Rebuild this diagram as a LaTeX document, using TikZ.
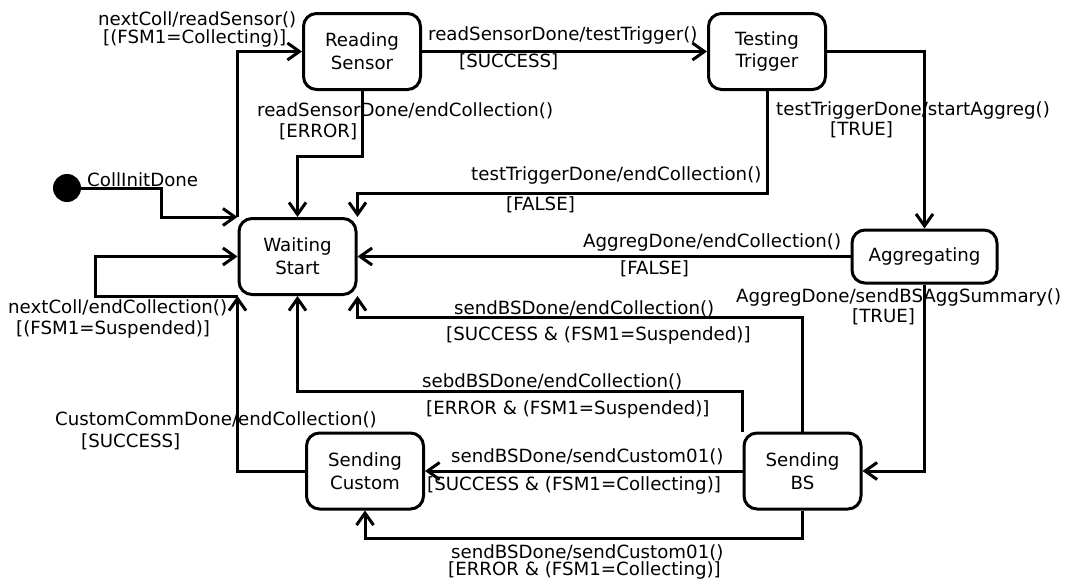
\documentclass[tikz,border=0pt]{standalone}
\usepackage{fontspec}
\setmainfont{DejaVu Sans}
\usetikzlibrary{arrows.meta}
\begin{document}
\begin{tikzpicture}[x=1pt,y=-1pt,
  every node/.style={font=\fontsize{18.2}{22.7}\selectfont},
  state/.style={draw,line width=3pt,rounded corners=13pt,align=center,
    minimum width=117pt,minimum height=76pt,inner sep=0pt},
  tr/.style={line width=3pt,-{Straight Barb[length=12pt,width=17pt,line width=3pt]}},
  lab/.style={anchor=base west,inner sep=0pt}]
\useasboundingbox (0,0) rectangle (1067,581);
% states
\node[state] (RS) at (362,51.5) {Reading\\Sensor};
\node[state] (TT) at (767,51.5) {Testing\\Trigger};
\node[state] (WS) at (297.5,256.5) {Waiting\\Start};
\node[state,minimum width=145pt,minimum height=53pt] (AG) at (924.5,256.5) {Aggregating};
\node[state] (SC) at (365,471) {Sending\\Custom};
\node[state] (SB) at (802.5,471) {Sending\\BS};
\node[circle,fill,inner sep=0pt,minimum size=28pt] (init) at (67,188) {};
% transitions
\draw[tr] (init.east) -- (161,188) |- (WS.north west);
\draw[tr] (WS.north west) |- (RS.west);
\draw[tr] (RS.south) -- ++(0,65) -| (WS.north);
\draw[tr] (RS.east) -- (TT.west);
\draw[tr] (TT.south) -- ++(0,102) -| (WS.north east);
\draw[tr] (TT.east) -| (AG.north);
\draw[tr] (AG.west) -- (WS.east);
\draw[tr] (AG.south) |- (SB.east);
\draw[tr] (SB.north) -- ++(0,-114) -| (WS.south east);
\draw[tr] (SB.north west) -- ++(0,-40) -| (WS.south);
\draw[tr] (SC.west) -| (WS.south west);
\draw[tr] (WS.south west) -- ++(-142,0) |- (WS.west);
\draw[tr] (SB.west) -- (SC.east);
\draw[tr] (SB.south) -- ++(0,28) -| (SC.south);
% labels
\node[lab] (l1) at (87,186) {CollInitDone};
\node[lab] (l2a) at (98,25) {nextColl/readSensor()};
\node[lab] (l2b) at (103,43) {[(FSM1=Collecting)]};
\node[lab] (l3a) at (257,116) {readSensorDone/endCollection()};
\node[lab] (l3b) at (279,137) {[ERROR]};
\node[lab] (l4a) at (428,40) {readSensorDone/testTrigger()};
\node[lab] (l4b) at (459,67) {[SUCCESS]};
\node[lab] (l5a) at (471,180) {testTriggerDone/endCollection()};
\node[lab] (l5b) at (506,210) {[FALSE]};
\node[lab] (l6a) at (776,115) {testTriggerDone/startAggreg()};
\node[lab] (l6b) at (830,135) {[TRUE]};
\node[lab] (l7a) at (583,247) {AggregDone/endCollection()};
\node[lab] (l7b) at (620,274) {[FALSE]};
\node[lab] (l8a) at (736,302) {AggregDone/sendBSAggSummary()};
\node[lab] (l8b) at (852,322) {[TRUE]};
\node[lab] (l9a) at (454,314) {sendBSDone/endCollection()};
\node[lab] (l9b) at (446,340) {[SUCCESS \& (FSM1=Suspended)]};
\node[lab] (l10a) at (422,387) {sebdBSDone/endCollection()};
\node[lab] (l10b) at (426,414) {[ERROR \& (FSM1=Suspended)]};
\node[lab] (l11a) at (55,425) {CustomCommDone/endCollection()};
\node[lab] (l11b) at (81,447) {[SUCCESS]};
\node[lab] (l12a) at (8,313) {nextColl/endCollection()};
\node[lab] (l12b) at (16,334) {[(FSM1=Suspended)]};
\node[lab] (l13a) at (451,462) {sendBSDone/sendCustom01()};
\node[lab] (l13b) at (427,490) {[SUCCESS \& (FSM1=Collecting)]};
\node[lab] (l14a) at (451,558) {sendBSDone/sendCustom01()};
\node[lab] (l14b) at (448,575) {[ERROR \& (FSM1=Collecting)]};
\end{tikzpicture}
\end{document}
